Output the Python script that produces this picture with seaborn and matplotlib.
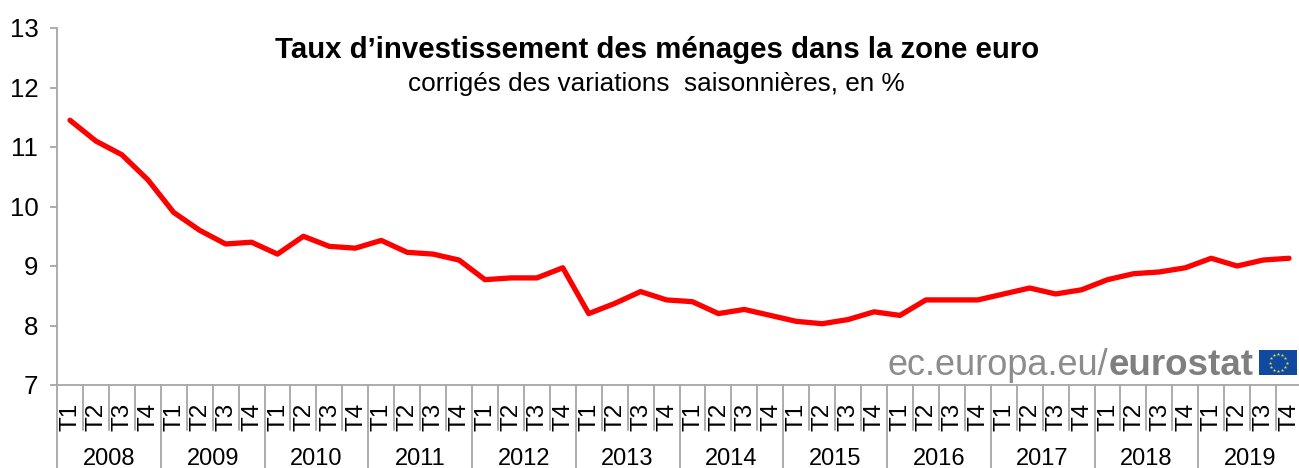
import numpy as np
import pandas as pd
import matplotlib
matplotlib.use('Agg')
import matplotlib.pyplot as plt
from matplotlib.patches import Rectangle
import seaborn as sns

years = [str(y) for y in range(2008, 2020)]
quarters = ['T1', 'T2', 'T3', 'T4']
rate = [11.45, 11.10, 10.87, 10.45,
        9.90, 9.60, 9.37, 9.40,
        9.20, 9.50, 9.33, 9.30,
        9.43, 9.23, 9.20, 9.10,
        8.77, 8.80, 8.80, 8.97,
        8.20, 8.37, 8.57, 8.43,
        8.40, 8.20, 8.27, 8.17,
        8.07, 8.03, 8.10, 8.23,
        8.17, 8.43, 8.43, 8.43,
        8.53, 8.63, 8.53, 8.60,
        8.77, 8.87, 8.90, 8.97,
        9.13, 9.00, 9.10, 9.13]
y_ticks = [7, 8, 9, 10, 11, 12, 13]

W, H = 1299, 468
GREY = '#a6a6a6'

sns.set_theme(style='white')
plt.rcParams['font.family'] = ['Liberation Sans', 'DejaVu Sans']

df = pd.DataFrame({'pos': np.arange(len(rate)), 'rate': rate})

fig = plt.figure(figsize=(W / 100, H / 100), dpi=100)
# the plot area runs slightly past the right edge of the picture
ax = fig.add_axes([57 / W, 1 - 385 / H, 1245 / W, (385 - 28) / H])

sns.lineplot(data=df, x='pos', y='rate', color='#ff0000', linewidth=3.8, ax=ax, clip_on=False)
ax.lines[0].set_solid_capstyle('round')
ax.lines[0].set_solid_joinstyle('round')

ax.set_xlim(-0.5, len(rate) - 0.5)
ax.set_ylim(7, 13)
ax.set_yticks(y_ticks)
ax.set_xticks([])
ax.set_xlabel('')
ax.set_ylabel('')
ax.tick_params(axis='y', length=5, width=1.3, color=GREY, left=True, labelsize=18.5, labelcolor='black', pad=8.5)

for side in ['top', 'right']:
    ax.spines[side].set_visible(False)
for side in ['left', 'bottom']:
    ax.spines[side].set_color(GREY)
    ax.spines[side].set_linewidth(1.3)

# two level category axis under the plot
tr = ax.get_xaxis_transform()
to_ax = 1 / (385 - 28)  # one pixel in axes units
for i in range(len(rate) + 1):
    is_year = i % 4 == 0
    low = -(H - 385) * to_ax if is_year else -45 * to_ax
    ax.plot([i - 0.5, i - 0.5], [0, low], transform=tr, color=GREY, lw=1.3, clip_on=False)
for i in range(len(rate)):
    ax.text(i + 0.03, -32 * to_ax, quarters[i % 4], transform=tr, rotation=90, ha='center', va='center',
            fontsize=17.5, color='black')
for j, year in enumerate(years):
    ax.text(4 * j + 1.5, -74 * to_ax, year, transform=tr, ha='center', va='center',
            fontsize=17, color='black')

# titles
fig.text(657 / W, 1 - 50 / H, 'Taux d’investissement des ménages dans la zone euro',
         ha='center', va='center', fontsize=21.2, fontweight='bold', color='black')
fig.text(656 / W, 1 - 84 / H, 'corrigés des variations  saisonnières, en %',
         ha='center', va='center', fontsize=18.8, color='black')

# eurostat mark
fig.text(1254 / W, 1 - 375 / H, 'eurostat', ha='right', va='baseline', fontsize=26.5,
         fontweight='bold', color='#7f7f7f')
fig.text(1108 / W, 1 - 375 / H, 'ec.europa.eu/', ha='right', va='baseline', fontsize=26,
         color='#8c8c8c')

fx0, fy0, fw, fh = 1259, 350, 38, 25
fig.add_artist(Rectangle((fx0 / W, 1 - (fy0 + fh) / H), fw / W, fh / H, transform=fig.transFigure,
                         facecolor='#0f4aa0', edgecolor='none'))
ang = np.deg2rad(np.arange(0, 360, 30))
star_x = (fx0 + fw / 2 + 8.5 * np.cos(ang)) / W
star_y = 1 - (fy0 + fh / 2 + 8.5 * np.sin(ang)) / H
fig.add_artist(plt.Line2D(star_x, star_y, transform=fig.transFigure, linestyle='none',
                          marker='*', markersize=2.6, color='#e8d93a', markeredgewidth=0))

fig.savefig('out.png', dpi=100)
plt.close(fig)
